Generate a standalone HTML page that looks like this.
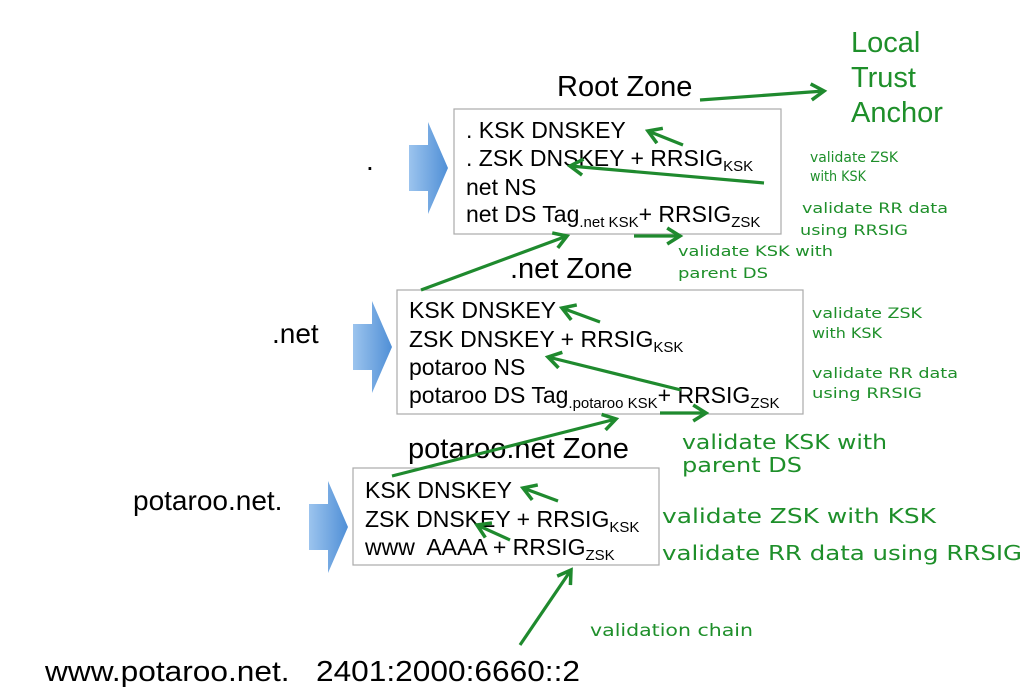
<!DOCTYPE html>
<html><head><meta charset="utf-8"><style>
html,body{margin:0;padding:0;background:#fff;}
svg{display:block;}
.t{font-family:"Liberation Sans",Arial,sans-serif;fill:#000;}
.g{font-family:"DejaVu Sans","Liberation Sans",sans-serif;fill:#1e8f2a;font-weight:normal;}
.b{fill:none;stroke:#aaa;stroke-width:1.2;}
.a{stroke:#1f8a2e;stroke-width:3.2;fill:none;marker-end:url(#ah);}
</style></head><body>
<svg width="1032" height="694" viewBox="0 0 1032 694" xmlns="http://www.w3.org/2000/svg">
<defs>
<marker id="ah" markerWidth="6" markerHeight="6" refX="4.5" refY="3" orient="auto" markerUnits="strokeWidth">
<path d="M0.5,0.5 L4.5,3 L0.5,5.5" fill="none" stroke="#1f8a2e" stroke-width="1.1"/>
</marker>
<linearGradient id="bl" x1="0" x2="1" y1="0" y2="0">
<stop offset="0" stop-color="#9cc4ee"/><stop offset="1" stop-color="#4f8fd6"/>
</linearGradient>
</defs>

<path d="M409,145 L428,145 L428,122 L448,168 L428,214 L428,191 L409,191 Z" fill="url(#bl)"/>
<path d="M353,324 L372,324 L372,301 L392,347 L372,393 L372,370 L353,370 Z" fill="url(#bl)"/>
<path d="M309,504 L328,504 L328,481 L348,527 L328,573 L328,550 L309,550 Z" fill="url(#bl)"/>

<rect class="b" x="454" y="109" width="327" height="125"/>
<rect class="b" x="397" y="290" width="406" height="124"/>
<rect class="b" x="353" y="468" width="306" height="97"/>

<text class="t" x="557" y="96" font-size="29">Root Zone</text>
<text class="t" x="510" y="278" font-size="29">.net Zone</text>
<text class="t" x="408" y="458" font-size="29">potaroo.net Zone</text>

<text class="g" x="851" y="52" font-size="29" style="font-family:'Liberation Sans',sans-serif">Local</text>
<text class="g" x="851" y="87" font-size="29" style="font-family:'Liberation Sans',sans-serif">Trust</text>
<text class="g" x="851" y="122" font-size="29" style="font-family:'Liberation Sans',sans-serif">Anchor</text>

<text class="t" x="366" y="170" font-size="28">.</text>
<text class="t" x="272" y="343" font-size="28">.net</text>
<text class="t" x="133" y="510" font-size="28">potaroo.net.</text>
<text class="t" x="45" y="681" font-size="29" textLength="535" lengthAdjust="spacingAndGlyphs">www.potaroo.net.&#160;&#160;&#160;2401:2000:6660::2</text>

<g class="t" font-size="23">
<text x="466" y="138">. KSK DNSKEY</text>
<text x="466" y="166">. ZSK DNSKEY + RRSIG<tspan font-size="15" dy="5">KSK</tspan></text>
<text x="466" y="195">net NS</text>
<text x="466" y="222">net DS Tag<tspan font-size="15" dy="5">.net KSK</tspan><tspan dy="-5">+ RRSIG</tspan><tspan font-size="15" dy="5">ZSK</tspan></text>
</g>
<g class="t" font-size="23">
<text x="409" y="318">KSK DNSKEY</text>
<text x="409" y="347">ZSK DNSKEY + RRSIG<tspan font-size="15" dy="5">KSK</tspan></text>
<text x="409" y="375">potaroo NS</text>
<text x="409" y="403">potaroo DS Tag<tspan font-size="15" dy="5">.potaroo KSK</tspan><tspan dy="-5">+ RRSIG</tspan><tspan font-size="15" dy="5">ZSK</tspan></text>
</g>
<g class="t" font-size="23">
<text x="365" y="498">KSK DNSKEY</text>
<text x="365" y="527">ZSK DNSKEY + RRSIG<tspan font-size="15" dy="5">KSK</tspan></text>
<text x="365" y="555">www&#160; AAAA + RRSIG<tspan font-size="15" dy="5">ZSK</tspan></text>
</g>

<line class="a" x1="700" y1="100" x2="824" y2="91"/>
<line class="a" x1="683" y1="145" x2="648" y2="131"/>
<line class="a" x1="764" y1="183" x2="570" y2="166"/>
<line class="a" x1="634" y1="236" x2="680" y2="236"/>
<line class="a" x1="421" y1="290" x2="567" y2="236"/>
<line class="a" x1="600" y1="322" x2="562" y2="308"/>
<line class="a" x1="681" y1="390" x2="548" y2="357"/>
<line class="a" x1="660" y1="413" x2="706" y2="413"/>
<line class="a" x1="392" y1="476" x2="616" y2="419"/>
<line class="a" x1="558" y1="501" x2="523" y2="488"/>
<line class="a" x1="510" y1="540" x2="477" y2="525"/>
<line class="a" x1="520" y1="645" x2="571" y2="570"/>

<g class="g">
<text x="810" y="162" font-size="14" textLength="88" lengthAdjust="spacingAndGlyphs">validate ZSK</text>
<text x="810" y="181" font-size="14" textLength="56" lengthAdjust="spacingAndGlyphs">with KSK</text>
<text x="802" y="213" font-size="14" textLength="146" lengthAdjust="spacingAndGlyphs">validate RR data</text>
<text x="800" y="235" font-size="14" textLength="108" lengthAdjust="spacingAndGlyphs">using RRSIG</text>
<text x="678" y="256" font-size="14" textLength="155" lengthAdjust="spacingAndGlyphs">validate KSK with</text>
<text x="678" y="278" font-size="14" textLength="90" lengthAdjust="spacingAndGlyphs">parent DS</text>

<text x="812" y="318" font-size="14" textLength="110" lengthAdjust="spacingAndGlyphs">validate ZSK</text>
<text x="812" y="338" font-size="14" textLength="70" lengthAdjust="spacingAndGlyphs">with KSK</text>
<text x="812" y="378" font-size="14" textLength="146" lengthAdjust="spacingAndGlyphs">validate RR data</text>
<text x="812" y="398" font-size="14" textLength="110" lengthAdjust="spacingAndGlyphs">using RRSIG</text>

<text x="682" y="449" font-size="20" textLength="205" lengthAdjust="spacingAndGlyphs">validate KSK with</text>
<text x="682" y="472" font-size="20" textLength="120" lengthAdjust="spacingAndGlyphs">parent DS</text>

<text x="662" y="523" font-size="20" textLength="274" lengthAdjust="spacingAndGlyphs">validate ZSK with KSK</text>
<text x="662" y="560" font-size="20" textLength="360" lengthAdjust="spacingAndGlyphs">validate RR data using RRSIG</text>
<text x="590" y="636" font-size="17" textLength="163" lengthAdjust="spacingAndGlyphs">validation chain</text>
</g>
</svg>
</body></html>
